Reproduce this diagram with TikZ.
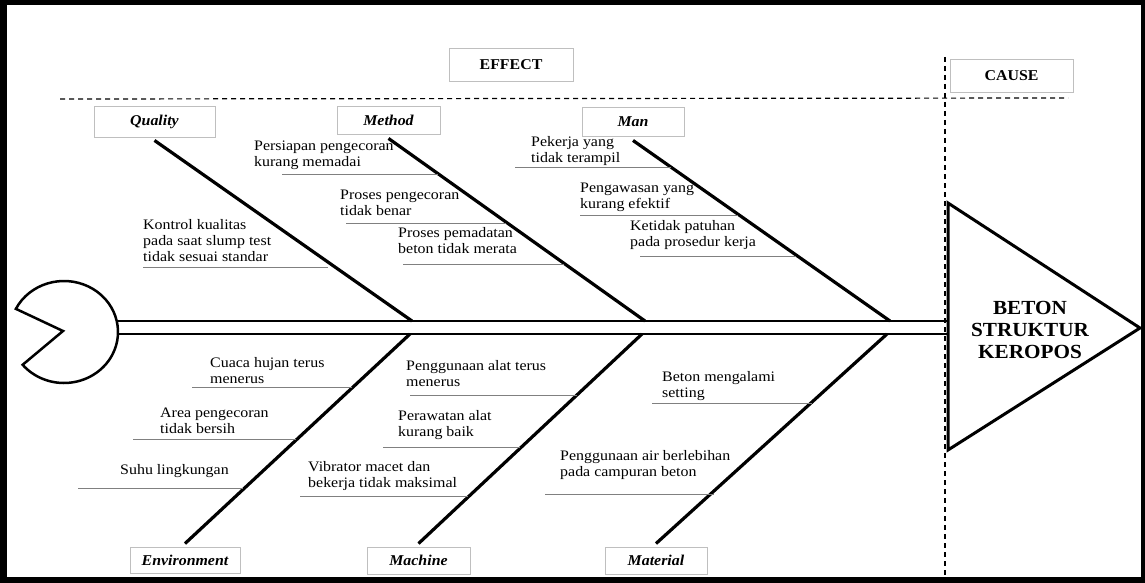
\documentclass[tikz,border=0pt]{standalone}
\usepackage{fontspec}
\setmainfont{Liberation Serif}
\newfontfamily\wideserif[FakeStretch=1.1]{Liberation Serif}
\newfontfamily\labserif[FakeStretch=1.06]{Liberation Serif}
\usetikzlibrary{calc}
\begin{document}
\begin{tikzpicture}[x=1pt,y=-1pt,
  lbl/.style={draw=black!25,line width=0.9pt,fill=white,inner sep=0pt,font=\labserif\fontsize{15}{17}\selectfont\bfseries\itshape},
  hdr/.style={draw=black!25,line width=0.9pt,fill=white,inner sep=0pt,font=\labserif\fontsize{15}{17}\selectfont\bfseries},
  ctext/.style={anchor=west,align=left,inner sep=0pt,font=\wideserif\fontsize{14.5}{16}\selectfont},
  uline/.style={draw=black!50,line width=0.8pt},
  bone/.style={line width=3.2pt},
  spine/.style={line width=2.5pt},
  dsh/.style={line width=1.2pt,dash pattern=on 5pt off 4pt}]
\useasboundingbox (0,0) rectangle (1145,583);
% frame
\fill[black] (0,0) rectangle (1145,583);
\fill[white] (7,5) rectangle (1141,577);
% dashed separators
\coordinate (dl) at (60,99);
\coordinate (dr) at (1068,98);
\coordinate (vt) at (945,57);
\coordinate (vb) at (945,577);
\draw[dsh] (dl) -- (dr);
\draw[dsh] (vt) -- (vb);
% header boxes
\node[hdr,minimum width=124pt,minimum height=33pt] (effect) at (511,64.5) {EFFECT};
\node[hdr,minimum width=123pt,minimum height=33pt] (cause) at (1011.5,75.5) {CAUSE};
% category boxes
\node[lbl,minimum width=121pt,minimum height=31pt] (quality) at (154.5,121.5) {Quality};
\node[lbl,minimum width=103pt,minimum height=28pt] (method) at (388.5,120) {Method};
\node[lbl,minimum width=102pt,minimum height=29pt] (man) at (633,121.5) {Man};
\node[lbl,minimum width=110pt,minimum height=26pt] (environment) at (185,560) {Environment};
\node[lbl,minimum width=103pt,minimum height=27pt] (machine) at (418.5,560.5) {Machine};
\node[lbl,minimum width=102pt,minimum height=27pt] (material) at (656,560.5) {Material};
% head (pacman)
\coordinate (hc) at (64,332);
\coordinate (notch) at (63,331);
\draw[line width=2.5pt,fill=white,line join=miter] (notch) -- ($(hc)+(207:54 and 51)$) arc[start angle=207,end angle=500,x radius=54,y radius=51] -- cycle;
% spine
\coordinate (sl1) at (118,321);
\coordinate (sl2) at (118,334);
\coordinate (sr1) at (948,321);
\coordinate (sr2) at (948,334);
\draw[spine] (sl1) -- (sr1);
\draw[spine] (sl2) -- (sr2);
% effect triangle
\coordinate (t1) at (948,203);
\coordinate (t2) at (1140,328);
\coordinate (t3) at (948,450);
\draw[line width=3pt,line join=miter,fill=white] (t1) -- (t2) -- (t3) -- cycle;
\node[align=center,inner sep=0pt,font=\labserif\fontsize{20}{22}\selectfont\bfseries] (problem) at (1030,330) {BETON\\STRUKTUR\\KEROPOS};
% joints
\coordinate (qj) at (412,321);
\coordinate (mj) at (645,321);
\coordinate (nj) at (890,321);
\coordinate (ej) at (410,334);
\coordinate (cj) at (642,334);
\coordinate (tj) at (887,334);
% bones
\draw[bone] ([yshift=-3pt]quality.south) -- (qj);
\draw[bone] ([yshift=-4pt]method.south) -- (mj);
\draw[bone] ([yshift=-4pt]man.south) -- (nj);
\draw[bone] ([yshift=3pt]environment.north) -- (ej);
\draw[bone] ([yshift=3pt]machine.north) -- (cj);
\draw[bone] ([yshift=3pt]material.north) -- (tj);
% causes: quality
\node[ctext] (c1) at (143,240.5) {Kontrol kualitas\\pada saat slump test\\tidak sesuai standar};
\draw[uline] (143,267) -- (328,267);
% method
\node[ctext] (c2) at (254,155.5) {Persiapan pengecoran\\kurang memadai};
\draw[uline] (282,174) -- (438,174);
\node[ctext] (c3) at (340,202.5) {Proses pengecoran\\tidak benar};
\draw[uline] (346,223) -- (506,223);
\node[ctext] (c4) at (398,240.5) {Proses pemadatan\\beton tidak merata};
\draw[uline] (403,264) -- (564,264);
% man
\node[ctext] (c5) at (531,151) {Pekerja yang\\tidak terampil};
\draw[uline] (515,167) -- (671,167);
\node[ctext] (c6) at (580,197.5) {Pengawasan yang\\kurang efektif};
\draw[uline] (580,215) -- (738,215);
\node[ctext] (c7) at (630,235) {Ketidak patuhan\\pada prosedur kerja};
\draw[uline] (640,256) -- (796,256);
% environment
\node[ctext] (c8) at (210,371) {Cuaca hujan terus\\menerus};
\draw[uline] (192,387) -- (352,387);
\node[ctext] (c9) at (160,420.5) {Area pengecoran\\tidak bersih};
\draw[uline] (133,439) -- (296,439);
\node[ctext] (c10) at (120,471) {Suhu lingkungan};
\draw[uline] (78,488) -- (243,488);
% machine
\node[ctext] (c11) at (406,373.5) {Penggunaan alat terus\\menerus};
\draw[uline] (410,395) -- (577,395);
\node[ctext] (c12) at (398,425.5) {Perawatan alat\\kurang baik};
\draw[uline] (383,447) -- (520,447);
\node[ctext] (c13) at (308,476.5) {Vibrator macet dan\\bekerja tidak maksimal};
\draw[uline] (300,496) -- (468,496);
% material
\node[ctext] (c14) at (662,386.5) {Beton mengalami\\setting};
\draw[uline] (652,403) -- (812,403);
\node[ctext] (c15) at (560,465.5) {Penggunaan air berlebihan\\pada campuran beton};
\draw[uline] (545,494) -- (714,494);
\end{tikzpicture}
\end{document}
